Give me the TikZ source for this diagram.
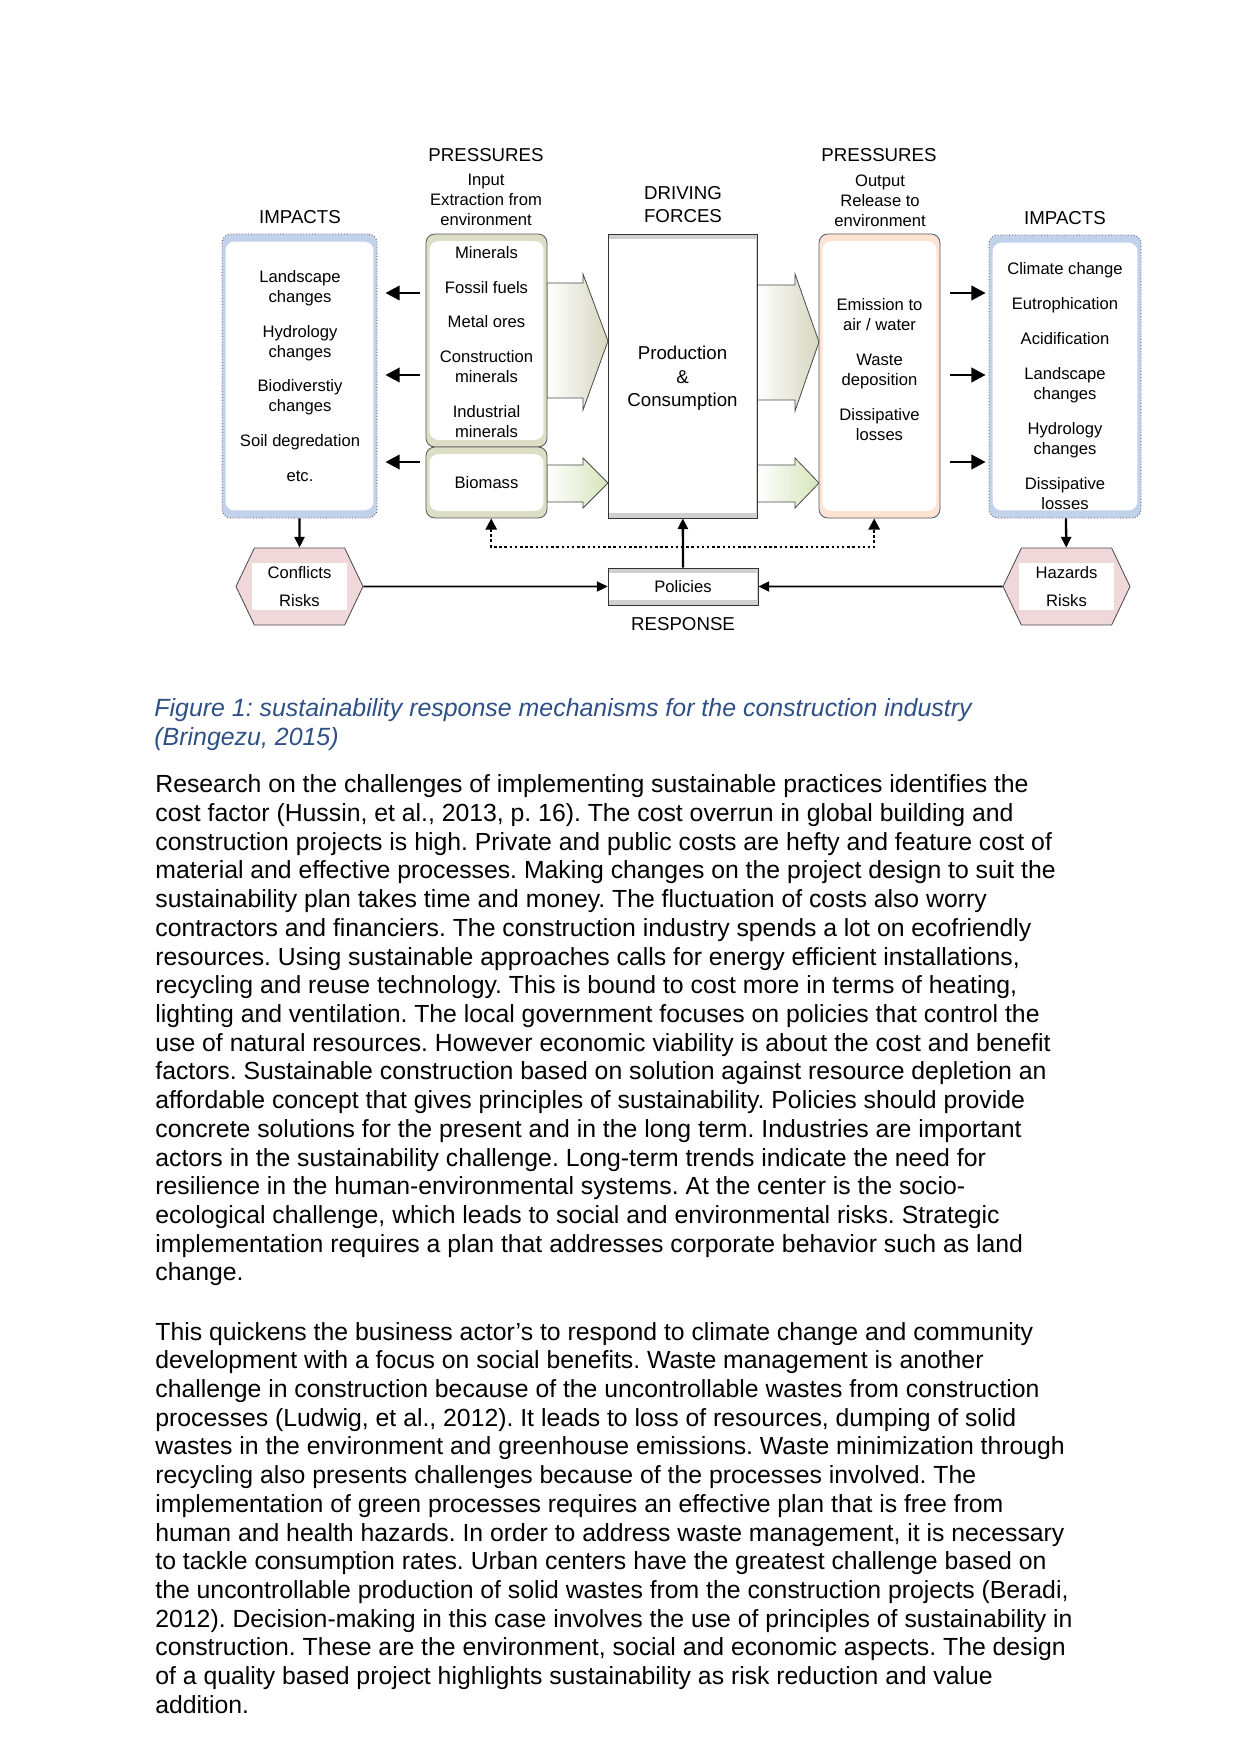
\documentclass[tikz,border=0pt]{standalone}
\usepackage{fontspec}
\setmainfont{Liberation Sans}
\usetikzlibrary{positioning,arrows.meta,shapes.symbols}
\frenchspacing

\definecolor{impblue}{RGB}{194,210,234}
\definecolor{inpgreen}{RGB}{220,223,198}
\definecolor{prodgray}{RGB}{208,208,208}
\definecolor{outpeach}{RGB}{252,228,212}
\definecolor{hexpink}{RGB}{240,216,218}
\definecolor{arrbeige}{RGB}{214,214,192}
\definecolor{arrgreen}{RGB}{214,228,186}
\definecolor{capblue}{RGB}{46,80,135}

\tikzset{
  hdr/.style={font=\fontsize{9}{11}\selectfont, inner sep=0pt, align=center},
  lbl/.style={font=\fontsize{8}{9.6}\selectfont, inner sep=0pt, align=center},
  band/.style 2 args={path picture={\fill[white] ([xshift=#1,yshift=#2]path picture bounding box.south west) rectangle ([xshift=-#1,yshift=-#2]path picture bounding box.north east);}},
  impbox/.style={draw=black!70, densely dotted, rounded corners=1.5mm, fill=impblue, band={0.6mm}{1.3mm}, inner sep=0pt},
  inbox/.style={draw=black!65, rounded corners=1.5mm, fill=inpgreen, band={0.6mm}{1.2mm}, inner sep=0pt},
  outbox/.style={draw=black!65, rounded corners=1.5mm, fill=outpeach, band={0.6mm}{1.2mm}, inner sep=0pt},
  prodbox/.style={draw=black!80, fill=prodgray, band={0.2mm}{0.9mm}, inner sep=0pt},
  hexa/.style={signal, signal to=west and east, signal pointer angle=129, draw=black!70, fill=hexpink, band={2.7mm}{2.5mm}, minimum width=21.49mm, minimum height=13.03mm, inner sep=0pt, font=\fontsize{8}{13.4}\selectfont, align=center},
  bigarrow/.style={draw=black!70, left color=white, right color=arrbeige},
  bioarrow/.style={draw=black!70, left color=white, right color=arrgreen},
  thickarr/.style={line width=1.4pt, >={Triangle[length=2.4mm,width=2.4mm]}, ->},
  linkarr/.style={line width=0.8pt, >={Triangle[length=1.8mm,width=1.7mm]}, ->},
  dotarr/.style={line width=1.1pt, dash pattern=on 1.2pt off 1.3pt, >={Triangle[length=1.9mm,width=1.9mm]}, <->},
  body/.style={anchor=north west, inner sep=0pt, align=left, font=\fontsize{11.93}{13.82}\selectfont}
}

\begin{document}
\begin{tikzpicture}[x=0.169218mm, y=-0.169218mm]
\useasboundingbox (0,0) rectangle (1241,1754);
\fill[white] (0,0) rectangle (1241,1754);

% block arrows
\draw[bigarrow] (547,283) -- (583,283) -- (583,274) -- (608,341) -- (583,410) -- (583,398) -- (547,398) -- cycle;
\draw[bioarrow] (547,465) -- (583,465) -- (583,458) -- (608,483) -- (583,508) -- (583,502) -- (547,502) -- cycle;
\draw[bigarrow] (757,285) -- (795,285) -- (795,274) -- (819,342) -- (795,411) -- (795,400) -- (757,400) -- cycle;
\draw[bioarrow] (757,465) -- (795,465) -- (795,458) -- (819,483) -- (795,508) -- (795,502) -- (757,502) -- cycle;

% boxes
\node[impbox, minimum width=26.23mm, minimum height=48.06mm] (impL) at (299.5,376) {};
\node[inbox, minimum width=20.48mm, minimum height=36.04mm] (inp) at (486.5,340.5) {};
\node[inbox, minimum width=20.48mm, minimum height=12.01mm] (bio) at (486.5,482.5) {};
\node[prodbox, minimum width=25.21mm, minimum height=48.06mm] (prod) at (682.5,376) {};
\node[outbox, minimum width=20.48mm, minimum height=48.06mm] (out) at (879.5,376) {};
\node[impbox, minimum width=25.72mm, minimum height=47.89mm] (impR) at (1065,376.5) {};
\node[prodbox, lbl, minimum width=25.38mm, minimum height=6.26mm] (pol) at (683,586.5) {Policies};
\node[hexa] (hexL) at (299.5,586.5) {Conflicts\\Risks};
\node[hexa] (hexR) at (1066.5,586.5) {Hazards\\Risks};

% box texts
\node[lbl] (impLtxt) at (300,376) {Landscape\\changes\\[7.2pt]Hydrology\\changes\\[7.2pt]Biodiverstiy\\changes\\[7.2pt]Soil degredation\\[7.2pt]etc.};
\node[lbl] (inptxt) at (486.5,342) {Minerals\\[7.2pt]Fossil fuels\\[7.2pt]Metal ores\\[7.2pt]Construction\\minerals\\[7.2pt]Industrial\\minerals};
\node[lbl] (biotxt) at (486.5,483) {Biomass};
\node[hdr, font=\fontsize{9}{11.3}\selectfont] (prodtxt) at (682.5,378.5) {Production\\\&\\Consumption};
\node[lbl] (outtxt) at (879.5,369.5) {Emission to\\air / water\\[7.2pt]Waste\\deposition\\[7.2pt]Dissipative\\losses};
\node[lbl] (impRtxt) at (1065,386) {Climate change\\[7.2pt]Eutrophication\\[7.2pt]Acidification\\[7.2pt]Landscape\\changes\\[7.2pt]Hydrology\\changes\\[7.2pt]Dissipative\\losses};

% headers
\node[hdr, anchor=base] (impLhdr) at (300,223.5) {IMPACTS};
\node[hdr, anchor=base] (pinhdr) at (486,162) {PRESSURES};
\node[lbl] (pinsub) at (486,200) {Input\\Extraction from\\environment};
\node[hdr] (dfhdr) at (683,204.5) {DRIVING\\FORCES};
\node[hdr, anchor=base] (pouthdr) at (879,162) {PRESSURES};
\node[lbl] (poutsub) at (880,201) {Output\\Release to\\environment};
\node[hdr, anchor=base] (impRhdr) at (1065,225) {IMPACTS};
\node[hdr, below=1.9mm of pol] (resp) {RESPONSE};

% arrows
\draw[thickarr, shorten <=1mm, shorten >=1.35mm] (inp.west |- 0,293) -- (impL.east |- 0,293);
\draw[thickarr, shorten <=1mm, shorten >=1.35mm] (inp.west |- 0,375) -- (impL.east |- 0,375);
\draw[thickarr, shorten <=1mm, shorten >=1.35mm] (bio.west |- 0,462) -- (impL.east |- 0,462);
\draw[thickarr, shorten <=1.7mm, shorten >=0.5mm] (out.east |- 0,293) -- (impR.west |- 0,293);
\draw[thickarr, shorten <=1.7mm, shorten >=0.5mm] (out.east |- 0,375) -- (impR.west |- 0,375);
\draw[thickarr, shorten <=1.7mm, shorten >=0.5mm] (out.east |- 0,462) -- (impR.west |- 0,462);

\draw[linkarr, line width=1.1pt] (impL) -- (hexL);
\draw[linkarr, line width=1.1pt] (impR) -- (hexR);
\draw[linkarr] (hexL) -- (pol);
\draw[linkarr] (hexR) -- (pol);
\draw[linkarr, line width=1.1pt] (pol) -- (prod);

\coordinate (dotmid) at (683,547);
\draw[dotarr] ([xshift=0.8mm]bio.south) |- (dotmid) -| ([xshift=-0.9mm]out.south);

% caption and text
\node[body, font=\fontsize{12}{13.82}\selectfont\itshape, text=capblue] (cap) at (154,698) {Figure 1: sustainability response mechanisms for the construction industry\\(Bringezu, 2015)};

\node[body] (para1) at (155,774.5) {Research on the challenges of implementing sustainable practices identifies the\\
cost factor (Hussin, et al., 2013, p. 16). The cost overrun in global building and\\
construction projects is high. Private and public costs are hefty and feature cost of\\
material and effective processes. Making changes on the project design to suit the\\
sustainability plan takes time and money. The fluctuation of costs also worry\\
contractors and financiers. The construction industry spends a lot on ecofriendly\\
resources. Using sustainable approaches calls for energy efficient installations,\\
recycling and reuse technology. This is bound to cost more in terms of heating,\\
lighting and ventilation. The local government focuses on policies that control the\\
use of natural resources. However economic viability is about the cost and benefit\\
factors. Sustainable construction based on solution against resource depletion an\\
affordable concept that gives principles of sustainability. Policies should provide\\
concrete solutions for the present and in the long term. Industries are important\\
actors in the sustainability challenge. Long-term trends indicate the need for\\
resilience in the human-environmental systems. At the center is the socio-\\
ecological challenge, which leads to social and environmental risks. Strategic\\
implementation requires a plan that addresses corporate behavior such as land\\
change.};

\node[body] (para2) at (155,1321.7) {This quickens the business actor’s to respond to climate change and community\\
development with a focus on social benefits. Waste management is another\\
challenge in construction because of the uncontrollable wastes from construction\\
processes (Ludwig, et al., 2012). It leads to loss of resources, dumping of solid\\
wastes in the environment and greenhouse emissions. Waste minimization through\\
recycling also presents challenges because of the processes involved. The\\
implementation of green processes requires an effective plan that is free from\\
human and health hazards. In order to address waste management, it is necessary\\
to tackle consumption rates. Urban centers have the greatest challenge based on\\
the uncontrollable production of solid wastes from the construction projects (Beradi,\\
2012). Decision-making in this case involves the use of principles of sustainability in\\
construction. These are the environment, social and economic aspects. The design\\
of a quality based project highlights sustainability as risk reduction and value\\
addition.};
\end{tikzpicture}
\end{document}
